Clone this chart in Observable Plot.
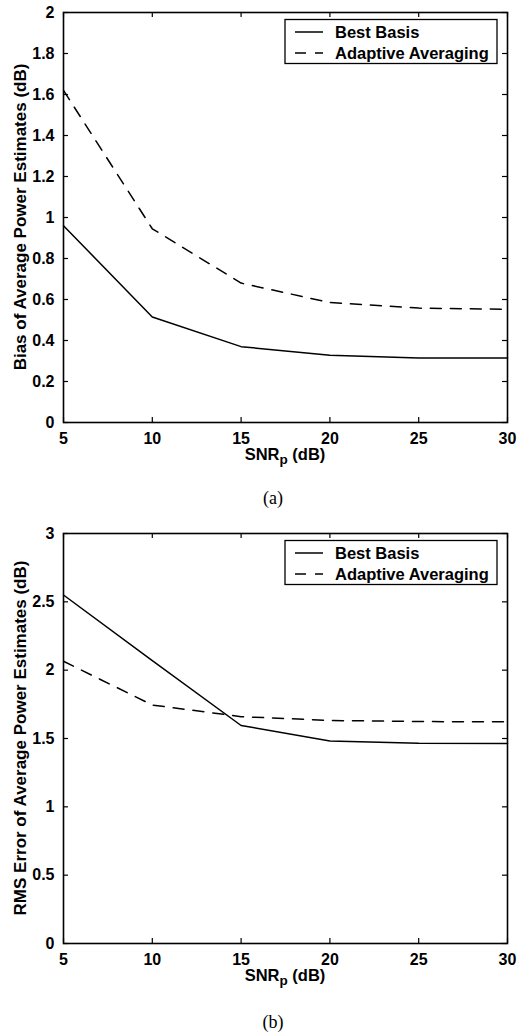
<!DOCTYPE html>
<html><head><meta charset="utf-8">
<script src="https://cdn.jsdelivr.net/npm/d3@7"></script>
<script src="https://cdn.jsdelivr.net/npm/@observablehq/plot@0.6"></script>
<style>
body{margin:0;background:#fff;}
#wrap{position:relative;width:517px;height:1034px;background:#fff;}
.panel{position:absolute;left:0;}
.cap{position:absolute;font-family:"Liberation Serif","Times New Roman",serif;font-size:18px;line-height:18px;width:60px;text-align:center;color:#000;}
</style></head><body><div id="wrap"></div>
<script>
// ---- data ----
const snr = [5, 10, 15, 20, 25, 30];
const biasBest = [0.96, 0.515, 0.37, 0.328, 0.315, 0.315];
const biasAdaptive = [1.62, 0.945, 0.68, 0.585, 0.558, 0.552];
const rmsBest = [2.55, 2.07, 1.595, 1.482, 1.465, 1.463];
const rmsAdaptive = [2.065, 1.745, 1.66, 1.632, 1.624, 1.622];
const seriesNames = ["Best Basis", "Adaptive Averaging"];
const xTicks = [5, 10, 15, 20, 25, 30];
const biasTicks = [0, 0.2, 0.4, 0.6, 0.8, 1, 1.2, 1.4, 1.6, 1.8, 2];
const rmsTicks = [0, 0.5, 1, 1.5, 2, 2.5, 3];
const biasLabel = "Bias of Average Power Estimates (dB)";
const rmsLabel = "RMS Error of Average Power Estimates (dB)";
const xLabelMain = "SNR", xLabelSub = "p", xLabelUnit = " (dB)";
const captions = ["(a)", "(b)"];

const W = 517, H = 470, ML = 63, MR = 10, FH = 410;
const FONT = "'Liberation Sans', Arial, Helvetica, sans-serif";
const wrap = document.getElementById("wrap");

function panel({best, adaptive, yDomain, yTicks, yLabel, top, marginTop, caption, captionTop}) {
  const fw = W - ML - MR;
  const plot = Plot.plot({
    width: W, height: H,
    marginTop, marginLeft: ML, marginRight: MR, marginBottom: H - marginTop - FH,
    x: {domain: [5, 30]},
    y: {domain: yDomain},
    style: {fontFamily: FONT, fontSize: "16px", fontWeight: "bold", color: "#000", background: "#fff", overflow: "visible"},
    marks: [
      Plot.axisX(xTicks, {tickSize: 0, tickPadding: 10, label: null, fontSize: 16, tickFormat: d => String(d)}),
      Plot.axisY(yTicks, {tickSize: 0, tickPadding: 9, label: null, fontSize: 16, tickFormat: d => String(d)}),
      Plot.tickX(xTicks, {x: d => d, insetTop: FH - 5, stroke: "#000", strokeWidth: 1.2}),
      Plot.tickX(xTicks, {x: d => d, insetBottom: FH - 5, stroke: "#000", strokeWidth: 1.2}),
      Plot.tickY(yTicks, {y: d => d, insetRight: fw - 5, stroke: "#000", strokeWidth: 1.2}),
      Plot.tickY(yTicks, {y: d => d, insetLeft: fw - 5, stroke: "#000", strokeWidth: 1.2}),
      Plot.line(snr, {x: d => d, y: (d, i) => best[i], stroke: "#000", strokeWidth: 1.5}),
      Plot.line(snr, {x: d => d, y: (d, i) => adaptive[i], stroke: "#000", strokeWidth: 1.5, strokeDasharray: "11,9"}),
      Plot.frame({stroke: "#000", strokeWidth: 1.6})
    ]
  });
  const svg = d3.select(plot);
  const fb = marginTop + FH;
  // x label with subscript
  const xl = svg.append("text").attr("x", ML + fw / 2).attr("y", fb + 38)
    .attr("text-anchor", "middle").attr("font-family", FONT).attr("font-size", 16.5).attr("font-weight", "bold");
  xl.append("tspan").text(xLabelMain);
  xl.append("tspan").attr("dy", 4).attr("font-size", 13.5).text(xLabelSub);
  xl.append("tspan").attr("dy", -4).text(xLabelUnit);
  // y label
  svg.append("text").attr("transform", `translate(26,${marginTop + FH / 2}) rotate(-90)`)
    .attr("text-anchor", "middle").attr("font-family", FONT).attr("font-size", 17).attr("font-weight", "bold")
    .text(yLabel);
  // legend
  const lg = svg.append("g").attr("transform", `translate(285,${marginTop + 7.5})`);
  lg.append("rect").attr("width", 212).attr("height", 44).attr("fill", "#fff").attr("stroke", "#000").attr("stroke-width", 1.3);
  const styles = [null, "11,9"];
  seriesNames.forEach((n, i) => {
    const y = 12.5 + i * 21;
    lg.append("line").attr("x1", 10).attr("x2", 38).attr("y1", y).attr("y2", y)
      .attr("stroke", "#000").attr("stroke-width", 1.5).attr("stroke-dasharray", styles[i]);
    lg.append("text").attr("x", 50).attr("y", y + 6).attr("text-anchor", "start")
      .attr("font-family", FONT).attr("font-size", 16.5).attr("font-weight", "bold").text(n);
  });
  plot.classList.add("panel");
  plot.style.top = top + "px";
  wrap.appendChild(plot);
  const c = document.createElement("div");
  c.className = "cap";
  c.style.left = (273 - 30) + "px";
  c.style.top = captionTop + "px";
  c.textContent = caption;
  wrap.appendChild(c);
}

panel({best: biasBest, adaptive: biasAdaptive, yDomain: [0, 2], yTicks: biasTicks, yLabel: biasLabel,
  top: 0, marginTop: 12, caption: captions[0], captionTop: 489});
panel({best: rmsBest, adaptive: rmsAdaptive, yDomain: [0, 3], yTicks: rmsTicks, yLabel: rmsLabel,
  top: 520, marginTop: 13, caption: captions[1], captionTop: 1013});
</script></body></html>
